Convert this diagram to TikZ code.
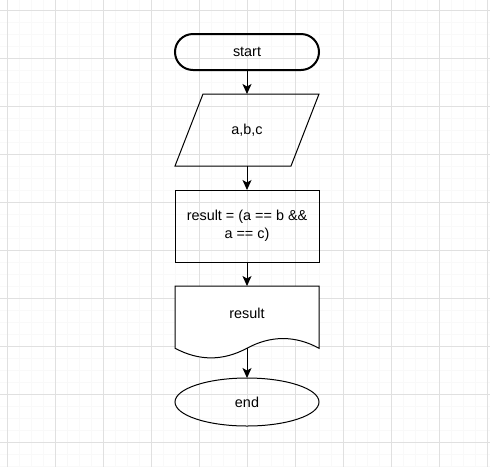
\documentclass[tikz,border=0pt]{standalone}
\usepackage{fontspec}
\setmainfont{Liberation Sans}
\usetikzlibrary{arrows.meta,shapes.geometric}

\begin{document}
\begin{tikzpicture}[x=1pt,y=-1pt,>={Stealth[length=10pt,width=9pt,inset=2.5pt]},
  font=\fontsize{14.4}{18}\selectfont,
  box/.style={draw,line width=1pt,minimum width=144pt,minimum height=72pt,inner sep=0pt,outer sep=0pt,align=center},
  term/.style={box,rectangle,rounded corners=18pt,minimum height=36pt,line width=2pt},
  stop/.style={box,ellipse,minimum height=48pt},
  flow/.style={->,line width=1pt}]
  % page and grid
  \useasboundingbox[fill=white] (0,0) rectangle (490,467);
  \foreach \x in {7,19,...,487} \draw[gray!5,line width=0.8pt] (\x,0) -- (\x,467);
  \foreach \y in {10,22,...,466} \draw[gray!5,line width=0.8pt] (0,\y) -- (490,\y);
  \foreach \x in {7,55,...,487} \draw[gray!24,line width=1pt] (\x,0) -- (\x,467);
  \foreach \y in {10,58,...,442} \draw[gray!24,line width=1pt] (0,\y) -- (490,\y);
  % steps
  \node[term] (start) at (247,52) {start};
  \node[box,draw=none] (input) at (247,130) {a,b,c};
  \draw[line width=1pt] (input.south west) -- ([xshift=28pt]input.north west)
    -- (input.north east) -- ([xshift=-28pt]input.south east) -- cycle;
  \node[box] (calc) at (247,226) {result = (a == b \&\&\\a == c)};
  % output document
  \draw[line width=1pt,fill=white] (175,348.2) -- (175,286) -- (319,286) -- (319,348.2)
    .. controls (295,335.3) and (271,335.3) .. (247,348.2)
    .. controls (223,361.1) and (199,361.1) .. (175,348.2) -- cycle;
  \node (output) at (247,313) {result};
  \coordinate (outtop) at (247,286);
  \coordinate (outbot) at (247,348.2);
  \node[stop] (end) at (247,402) {end};
  % arrows
  \draw[flow] (start) -- (input);
  \draw[flow] (input) -- (calc);
  \draw[flow] (calc) -- (outtop);
  \draw[flow] (outbot) -- (end);
\end{tikzpicture}
\end{document}
